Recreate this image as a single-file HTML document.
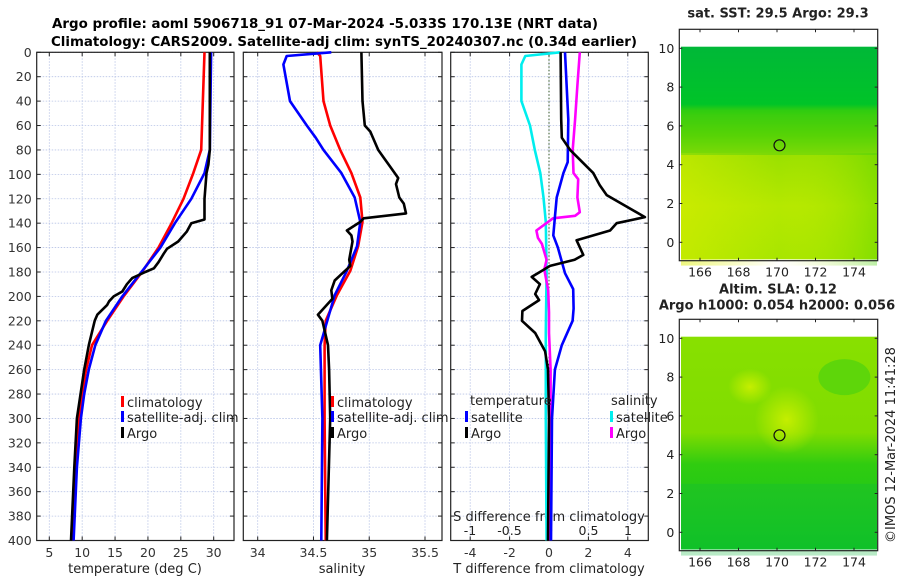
<!DOCTYPE html>
<html><head><meta charset="utf-8"><style>
html,body{margin:0;padding:0;background:#fff}
svg{display:block;font-family:"DejaVu Sans","Liberation Sans",sans-serif}
</style></head><body>
<svg id="fig" width="900" height="580" viewBox="0 0 900 580" xmlns="http://www.w3.org/2000/svg">
<defs>
<linearGradient id="sstg" x1="0" y1="0" x2="0" y2="1">
<stop offset="0" stop-color="#00b838"/><stop offset="0.27" stop-color="#00c428"/><stop offset="0.3" stop-color="#30cc10"/><stop offset="0.42" stop-color="#66d800"/><stop offset="0.5" stop-color="#99e000"/><stop offset="0.75" stop-color="#b5e800"/><stop offset="1" stop-color="#a8e600"/>
</linearGradient>
<linearGradient id="sstx" x1="0" y1="0" x2="1" y2="0">
<stop offset="0" stop-color="#ddee00" stop-opacity="0.5"/><stop offset="0.5" stop-color="#ddee00" stop-opacity="0"/><stop offset="1" stop-color="#40d000" stop-opacity="0.35"/>
</linearGradient>
<linearGradient id="slag" x1="0" y1="0" x2="0" y2="1">
<stop offset="0" stop-color="#88e000"/><stop offset="0.45" stop-color="#80dc00"/><stop offset="0.6" stop-color="#30cc10"/><stop offset="1" stop-color="#10c420"/>
</linearGradient>
<radialGradient id="slar" cx="0.5" cy="0.5" r="0.5">
<stop offset="0" stop-color="#ccf000" stop-opacity="0.9"/><stop offset="1" stop-color="#ccf000" stop-opacity="0"/>
</radialGradient>
</defs>
<text x="52" y="28" font-size="13" font-weight="bold" textLength="546" lengthAdjust="spacingAndGlyphs">Argo profile: aoml 5906718_91 07-Mar-2024 -5.033S 170.13E (NRT data)</text>
<text x="51" y="46" font-size="13" font-weight="bold" textLength="586" lengthAdjust="spacingAndGlyphs">Climatology: CARS2009. Satellite-adj clim: synTS_20240307.nc (0.34d earlier)</text>
<g id="plots"></g>
<g id="maps"></g>
<text transform="translate(895,445) rotate(-90)" font-size="13" text-anchor="middle" fill="#222">©IMOS 12-Mar-2024 11:41:28</text>
</svg>
<script>
// ---- data ----
const tClimDepth = [0,80,99,120,140,160,180,200,220,240,260,280,300,340,400];
const tClimVal   = [28.6,28.1,26.9,25.4,23.6,21.6,19.1,16.3,13.8,11.5,10.6,10.0,9.5,8.9,8.5];
const tSatDepth  = [0,80,99,120,140,160,180,200,220,240,260,280,300,340,400];
const tSatVal    = [29.6,29.4,28.6,26.6,24.1,21.9,19.0,16.1,13.6,12.0,11.0,10.3,9.8,9.2,8.7];
const tArgoDepth = [0,80,92,99,120,137,140,147,155,161,165,172,177,180,185,190,196,200,204,207,215,220,240,260,300,340,400];
const tArgoVal   = [29.4,29.4,29.2,28.9,28.6,28.6,26.6,25.9,24.6,22.9,22.4,21.6,20.9,19.6,17.6,16.8,16.1,14.8,14.1,13.8,12.3,11.9,11.0,10.3,9.2,8.8,8.3];

const sClimDepth = [0,3,40,60,80,99,119,139,159,179,199,220,240,300,400];
const sClimVal   = [34.53,34.56,34.59,34.65,34.74,34.84,34.92,34.94,34.90,34.83,34.71,34.61,34.60,34.60,34.61];
const sSatDepth  = [0,3,10,40,60,70,80,99,119,139,159,179,199,240,300,400];
const sSatVal    = [34.66,34.26,34.23,34.29,34.44,34.52,34.59,34.75,34.87,34.92,34.89,34.80,34.69,34.56,34.58,34.57];
const sArgoDepth = [0,40,60,65,80,94,103,108,119,124,132,136,139,146,150,155,160,170,175,181,187,195,202,215,220,240,260,300,400];
const sArgoVal   = [34.93,34.94,34.96,35.01,35.08,35.19,35.26,35.24,35.27,35.31,35.33,34.95,34.92,34.80,34.84,34.85,34.84,34.82,34.83,34.76,34.69,34.66,34.67,34.54,34.58,34.63,34.64,34.65,34.62];

const dTSatDepth = [0,55,90,99,119,135,150,160,181,194,210,220,240,260,300,400];
const dTSatVal   = [0.81,0.98,0.95,0.73,0.39,0.30,0.22,0.45,0.81,1.23,1.25,1.2,0.65,0.3,0.15,0.1];
const dTArgoDepth= [0,55,70,80,99,109,117,135,140,146,154,166,170,175,180,184,190,198,203,212,220,230,245,260,300,400];
const dTArgoVal  = [0.59,0.62,0.65,1.07,2.25,2.58,2.93,4.87,3.43,3.1,1.40,1.74,1.3,0.05,-0.46,-0.88,-0.46,-0.7,-0.5,-1.35,-1.37,-0.7,-0.2,-0.05,0.0,-0.05];
const dSSatDepth = [0,3,10,40,60,80,99,119,139,180,230,300,400];
const dSSatVal   = [0.14,-0.30,-0.35,-0.35,-0.24,-0.18,-0.11,-0.07,-0.04,-0.03,-0.04,-0.04,-0.03];
const dSArgoDepth= [0,27,55,80,99,104,119,131,134,136,146,152,157,170,178,195,213,230,260,300,400];
const dSArgoVal  = [0.39,0.36,0.33,0.30,0.31,0.37,0.36,0.39,0.33,0.05,-0.16,-0.14,-0.09,-0.03,-0.06,-0.01,0.0,0.0,0.02,0.02,0.01];

const depthTicks = [0,20,40,60,80,100,120,140,160,180,200,220,240,260,280,300,320,340,360,380,400];
const tTicks = [5,10,15,20,25,30];
const sTicks = [34,34.5,35,35.5];
const dTTicks = [-4,-2,0,2,4];
const dSTicks = [-1,-0.5,0,0.5,1];
const lonTicks = [166,168,170,172,174];
const latTicks = [0,2,4,6,8,10];
const argoLon = 170.13, argoLat = 5.0;

// ---- helpers ----
const NS="http://www.w3.org/2000/svg";
function mk(tag, parent, attrs){const e=document.createElementNS(NS,tag);for(const k in attrs)e.setAttribute(k,attrs[k]);parent.appendChild(e);return e;}
const Y0=52.3, Y1=540.5;
const yD = d => Y0 + d*(Y1-Y0)/400;
const plots=document.getElementById('plots');
const maps=document.getElementById('maps');

function linear(v0,p0,v1,p1){return v=>p0+(v-v0)*(p1-p0)/(v1-v0);}

function panel(name,x0,x1,xf,ticks,fmt,showY){
  const g=mk('g',plots,{});
  
  
  depthTicks.forEach(d=>{const l=mk('line',g,{x1:x0,x2:x1,y1:yD(d),y2:yD(d),stroke:'#b8c4e6','stroke-width':0.8,'stroke-dasharray':'1.5,1.5'});
    
    mk('line',g,{x1:x0,x2:x0+4,y1:yD(d),y2:yD(d),stroke:'#222'});mk('line',g,{x1:x1-4,x2:x1,y1:yD(d),y2:yD(d),stroke:'#222'});
    if(showY){const t=mk('text',g,{x:x0-5,y:yD(d)+4.5,'font-size':12.5,'text-anchor':'end',fill:'#333'});t.textContent=d;
      }
  });
  ticks.forEach(v=>{const x=xf(v);
    const l=mk('line',g,{x1:x,x2:x,y1:Y0,y2:Y1,stroke:'#b8c4e6','stroke-width':0.8,'stroke-dasharray':'1.5,1.5'});
    
    mk('line',g,{x1:x,x2:x,y1:Y1-4,y2:Y1,stroke:'#222'});mk('line',g,{x1:x,x2:x,y1:Y0,y2:Y0+4,stroke:'#222'});
    const t=mk('text',g,{x:x,y:557,'font-size':12.5,'text-anchor':'middle',fill:'#333'});t.textContent=fmt(v);
    
  });
  const r=mk('rect',g,{x:x0,y:Y0,width:x1-x0,height:Y1-Y0,fill:'none',stroke:'#222','stroke-width':1.2});
  
  return g;
}
function series(g,name,depths,vals,xf,color){
  const pts=depths.map((d,i)=>xf(vals[i]).toFixed(1)+','+yD(d).toFixed(1)).join(' ');
  const p=mk('polyline',g,{points:pts,fill:'none',stroke:color,'stroke-width':2.6,'stroke-linejoin':'round'});
  
  
}
function label(g,name,x,y,txt,anchor,size){
  const t=mk('text',g,{x:x,y:y,'font-size':size||13,'text-anchor':anchor||'start',fill:'#222'});t.textContent=txt;
  
  
  return t;
}
function legendEntry(g,name,x,y,color,txt){
  const b=mk('rect',g,{x:x,y:y-7,width:3,height:11,fill:color});
  
  
  label(g,name,x+6,y+4,txt);
}

// panel 1 temperature
const xT=linear(5,49.3,30,213.7);
const g1=panel('temperature-panel',36.7,234,xT,tTicks,v=>v,true);
series(g1,'temperature-climatology-line',tClimDepth,tClimVal,xT,'#ff0000');
series(g1,'temperature-satellite-line',tSatDepth,tSatVal,xT,'#0000ff');
series(g1,'temperature-argo-line',tArgoDepth,tArgoVal,xT,'#000000');
legendEntry(g1,'legend-climatology',121,403,'#ff0000','climatology');
legendEntry(g1,'legend-satellite',121,418,'#0000ff','satellite-adj. clim');
legendEntry(g1,'legend-argo',121,434,'#000000','Argo');
label(g1,'x-axis-title-temperature',135,573,'temperature (deg C)','middle');

// panel 2 salinity
const xS=linear(34,257.7,35.5,425);
const g2=panel('salinity-panel',243.3,442,xS,sTicks,v=>v,false);
series(g2,'salinity-climatology-line',sClimDepth,sClimVal,xS,'#ff0000');
series(g2,'salinity-satellite-line',sSatDepth,sSatVal,xS,'#0000ff');
series(g2,'salinity-argo-line',sArgoDepth,sArgoVal,xS,'#000000');
legendEntry(g2,'legend-climatology-s',331,403,'#ff0000','climatology');
legendEntry(g2,'legend-satellite-s',331,418,'#0000ff','satellite-adj. clim');
legendEntry(g2,'legend-argo-s',331,434,'#000000','Argo');
label(g2,'x-axis-title-salinity',342,573,'salinity','middle');

// panel 3 differences
const xdT=linear(0,549,4,627.8);
const xdS=linear(0,549,1,628);
const g3=panel('difference-panel',450.7,648.3,xdT,dTTicks,v=>v,false);
const z=mk('line',g3,{x1:549,x2:549,y1:Y0,y2:Y1,stroke:'#335522','stroke-width':1,'stroke-dasharray':'1.5,2'});

dSTicks.forEach(v=>{label(g3,'s-diff-tick-label',xdS(v),535,v,'middle',12.5);});
label(g3,'s-axis-title',549,521,'S difference from climatology','middle');
series(g3,'s-diff-satellite-line',dSSatDepth,dSSatVal,xdS,'#00eeee');
series(g3,'s-diff-argo-line',dSArgoDepth,dSArgoVal,xdS,'#ff00ff');
series(g3,'t-diff-satellite-line',dTSatDepth,dTSatVal,xdT,'#0000ff');
series(g3,'t-diff-argo-line',dTArgoDepth,dTArgoVal,xdT,'#000000');
label(g3,'legend-title-temperature',470,405,'temperature');
label(g3,'legend-title-salinity',611,405,'salinity');
legendEntry(g3,'legend-t-satellite',465,418,'#0000ff','satellite');
legendEntry(g3,'legend-t-argo',465,434,'#000000','Argo');
legendEntry(g3,'legend-s-satellite',610,418,'#00eeee','satellite');
legendEntry(g3,'legend-s-argo',610,434,'#ff00ff','Argo');
label(g3,'x-axis-title-t-diff',549,573,'T difference from climatology','middle');

// maps
function map(name,top,title1,title2,fillId,extra){
  const g=mk('g',maps,{});
  
  
  const bx0=679.3,bx1=877.7,by0=top,by1=top+231.4;
  const xl=linear(166,700,174,854);
  const yl=linear(10,top+19,0,top+213);
  mk('rect',g,{x:681,y:top+17.4,width:196,height:212.6,fill:'url(#'+fillId+')'});
  extra(g,xl,yl,top);
  const c=mk('circle',g,{cx:xl(argoLon),cy:yl(argoLat),r:5.5,fill:'none',stroke:'#111','stroke-width':1.2});
  
  mk('rect',g,{x:bx0,y:by0,width:bx1-bx0,height:by1-by0,fill:'none',stroke:'#222','stroke-width':1.2});
  lonTicks.forEach(v=>{const x=xl(v);mk('line',g,{x1:x,x2:x,y1:by1-3,y2:by1,stroke:'#222'});mk('line',g,{x1:x,x2:x,y1:by0,y2:by0+3,stroke:'#222'});
    label(g,'lon-tick-label',x,by1+16,v,'middle',12.5);});
  latTicks.forEach(v=>{const y=yl(v);mk('line',g,{x1:bx0,x2:bx0+3,y1:y,y2:y,stroke:'#222'});mk('line',g,{x1:bx1-3,x2:bx1,y1:y,y2:y,stroke:'#222'});
    label(g,'lat-tick-label',bx0-5,y+4.5,v,'end',12.5);});
  const t1=label(g,'map-title',778,top-(title2?26:12),title1,'middle',13);t1.setAttribute('font-weight','bold');
  if(title2){const t2=label(g,'map-subtitle',777,top-10,title2,'middle',13);t2.setAttribute('font-weight','bold');}
}
map('sst-map',29.3,'sat. SST: 29.5 Argo: 29.3',null,'sstg',(g,xl,yl)=>{
  mk('rect',g,{x:681,y:yl(4.6),width:196,height:yl(-1.2)-yl(4.6),fill:'url(#sstx)'});
  mk('rect',g,{x:681,y:yl(6.6),width:196,height:yl(4.5)-yl(6.6),fill:'#40cc10',opacity:0.35});
});
map('sla-map',319.3,'Altim. SLA: 0.12','Argo h1000: 0.054 h2000: 0.056','slag',(g,xl,yl,top)=>{
  mk('ellipse',g,{cx:xl(170.5),cy:yl(5.8),rx:32,ry:34,fill:'url(#slar)'});
  mk('ellipse',g,{cx:xl(168.6),cy:yl(7.5),rx:22,ry:18,fill:'url(#slar)'});
  mk('ellipse',g,{cx:xl(173.5),cy:yl(8),rx:26,ry:18,fill:'#44d010',opacity:0.6});
  mk('rect',g,{x:681,y:yl(2.5),width:196,height:yl(-1.2)-yl(2.5),fill:'#10b840',opacity:0.3});
});
</script>
</body></html>
